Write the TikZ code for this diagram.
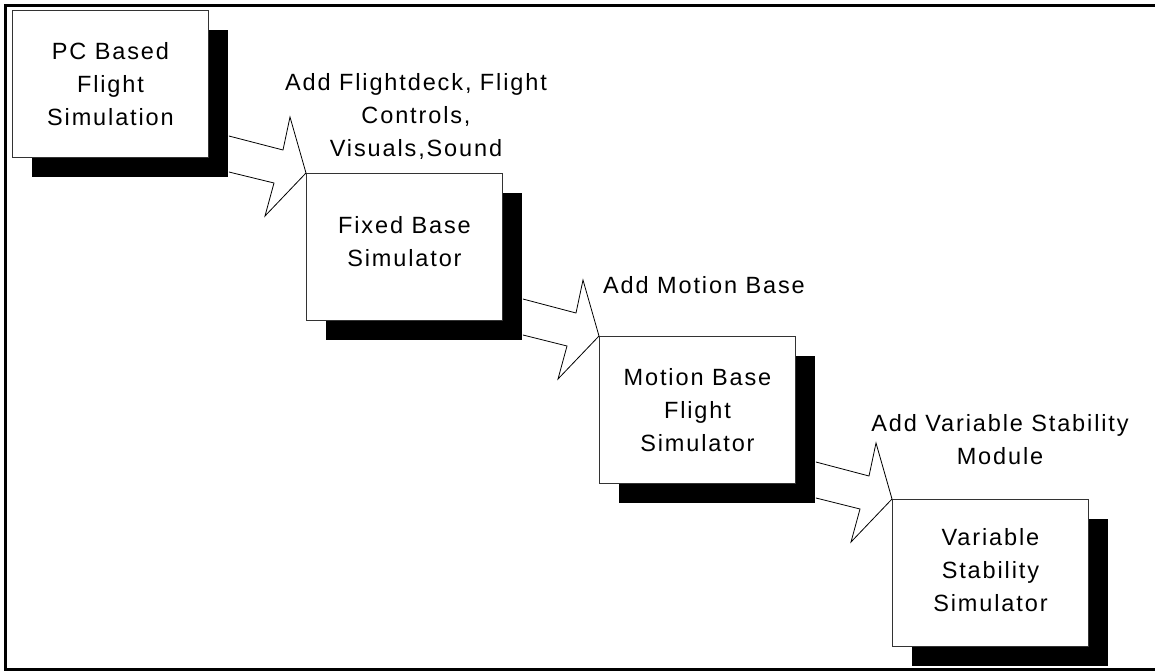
\documentclass[tikz,border=0pt]{standalone}
\usepackage{fontspec}
\setmainfont{Liberation Sans}[LetterSpace=8]
\usetikzlibrary{shadows}
\begin{document}
\begin{tikzpicture}[x=1pt,y=-1pt,
  stage/.style={draw=black!80, line width=0.9pt, fill=white,
    minimum width=196pt, minimum height=147pt, inner sep=0pt,
    align=center, font=\fontsize{23.5}{33}\selectfont,
    drop shadow={shadow xshift=20pt, shadow yshift=-20pt, fill=black, opacity=1}},
  addlabel/.style={align=center, inner sep=0pt, font=\fontsize{23.5}{33}\selectfont},
  upgrade/.style={draw=black, line width=0.8pt, fill=white, line join=miter},
  frame/.style={draw=black, line width=3pt}
]
\useasboundingbox (0,0) rectangle (1155,671);
% outer frame
\draw[frame] (5.5,5.5) rectangle (1175,669);

% simulator stages
\node[stage, anchor=north west] (pc)     at (12,10)   {PC Based\\Flight\\Simulation};
\node[stage, anchor=north west, text depth=10pt] (fixed)  at (306,173) {Fixed Base\\Simulator};
\node[stage, anchor=north west] (motion) at (599,336) {Motion Base\\Flight\\Simulator};
\node[stage, anchor=north west, text depth=6pt] (vs)     at (892,499) {Variable\\Stability\\Simulator};

% hollow block arrows from each stage to the next
\foreach \src/\dst in {pc/fixed, fixed/motion, motion/vs}{
  \coordinate (\dst-up) at ([shift={(0,-37)}]\dst.north west);
  \coordinate (\dst-lo) at ([shift={(0,-1)}]\dst.north west);
  \draw[upgrade] ([xshift=20pt]\src.east |- \dst-up)
    -- ([shift={(-23,-23)}]\dst.north west)
    -- ([shift={(-16,-56)}]\dst.north west)
    -- (\dst.north west)
    -- ([shift={(-41,43)}]\dst.north west)
    -- ([shift={(-32,10)}]\dst.north west)
    -- ([xshift=20pt]\src.east |- \dst-lo);
}

% upgrade labels
\node[addlabel] (l1) at (416,116) {Add Flightdeck, Flight\\Controls,\\Visuals,Sound};
\node[addlabel, anchor=base west] (l2) at (603,293) {Add Motion Base};
\node[addlabel] (l3) at (1000,440) {Add Variable Stability\\Module};
\end{tikzpicture}
\end{document}
